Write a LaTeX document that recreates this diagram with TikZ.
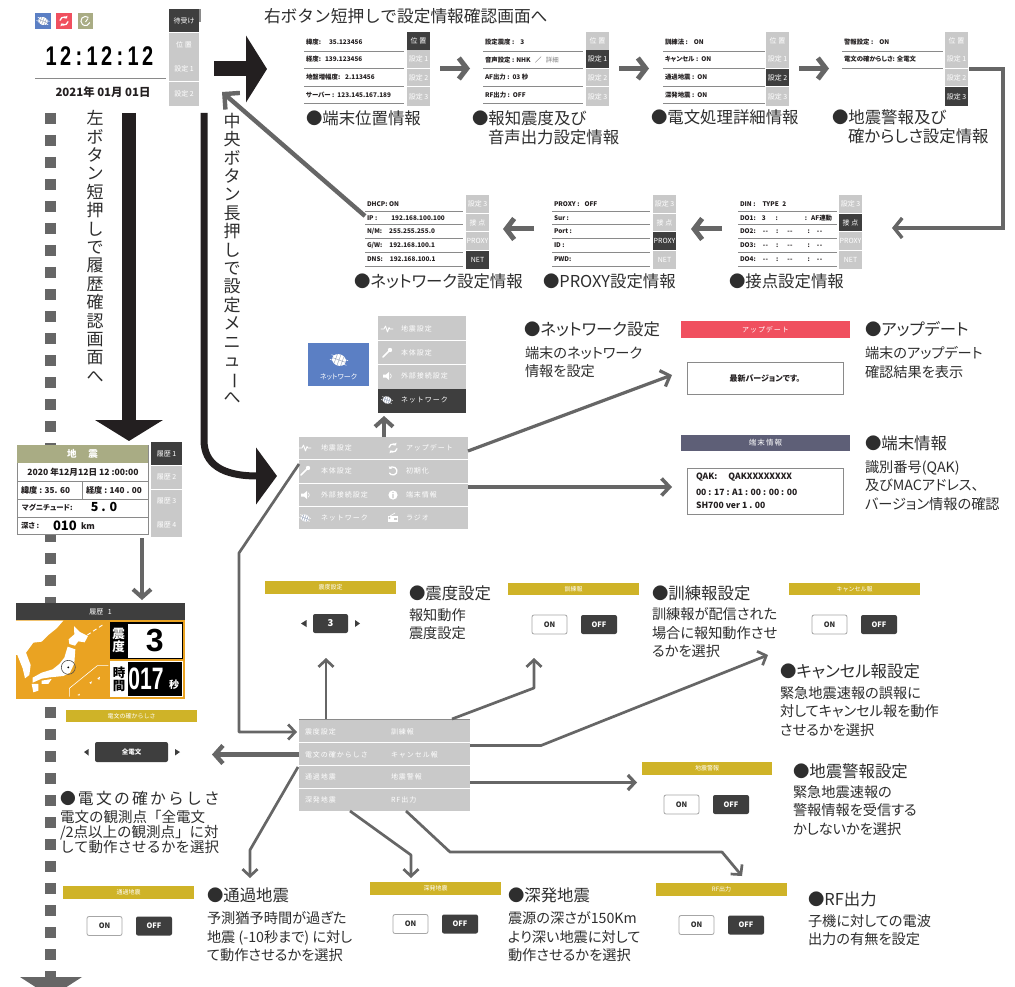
\documentclass[tikz,border=0pt]{standalone}
\usepackage{fontspec}
\usepackage{graphicx}
\usetikzlibrary{arrows.meta}
\setmainfont[RawFeature={+palt}]{Noto Sans CJK JP}
\newfontfamily\fixjp{Noto Sans CJK JP}
\newfontfamily\spcjp[LetterSpace=14]{Noto Sans CJK JP}
\newfontfamily\lsans{Liberation Sans}
\definecolor{ink}{HTML}{2E2E2E}
\definecolor{dk}{HTML}{231F20}
\definecolor{cg}{HTML}{666666}
\definecolor{panel}{HTML}{3E3E3E}
\definecolor{lgray}{HTML}{C9C9C9}
\definecolor{rowl}{HTML}{8A8A8A}
\definecolor{yel}{HTML}{CFB328}
\definecolor{red1}{HTML}{F0505F}
\definecolor{blue1}{HTML}{5B7FC4}
\definecolor{olive}{HTML}{A9AC84}
\definecolor{slate}{HTML}{5E5F77}
\definecolor{orng}{HTML}{EAA322}
\newcounter{tn}
\tikzset{
 box/.style={inner sep=0pt,outer sep=0pt,rectangle},
 txt/.style={inner sep=0pt,outer sep=0pt,anchor=west,text=ink},
 head/.style={txt,font=\fontsize{16.4}{16.4}\selectfont},
 bodyt/.style={txt,anchor=north west,align=left,yshift=-4.2pt,font=\fontsize{14.2}{18.8}\selectfont},
 rowt/.style={txt,text=dk,font=\bfseries\fontsize{6.4}{7}\selectfont},
 tabon/.style={box,fill=panel,text=white,font=\fontsize{7}{7}\selectfont},
 taboff/.style={box,fill=lgray,text=white,font=\fontsize{7}{7}\selectfont},
 rowline/.style={draw=rowl,line width=.8pt},
 hdr/.style={box,fill=yel,text=white,font=\fixjp\fontsize{6}{6}\selectfont},
 menut/.style={txt,text=white,font=\spcjp\fontsize{7}{8}\selectfont},
 btnon/.style={box,draw=gray!70,fill=white,line width=.8pt,rounded corners=2pt,text=ink,font=\bfseries\fontsize{7.4}{8}\selectfont},
 btnoff/.style={box,fill=panel,rounded corners=2pt,text=white,font=\bfseries\fontsize{7.4}{8}\selectfont},
 conn/.style={draw=cg,line width=5pt,-{Straight Barb[length=8pt,width=21pt]}},
 connm/.style={draw=cg,line width=4pt,-{Straight Barb[length=8pt,width=18pt]}},
 conns/.style={draw=cg,line width=2.7pt,line join=round,-{Straight Barb[length=7pt,width=15pt]}},
 iconw/.style={draw=white,line width=1pt,line cap=round,line join=round},
}
\newcommand\bx[7][]{%
 \pgfmathsetmacro\rcx{(#3+#5)/2}\pgfmathsetmacro\rcy{(#4+#6)/2}%
 \pgfmathsetmacro\rw{#5-#3}\pgfmathsetmacro\rh{#6-#4}%
 \node[box,#1,minimum width=\rw pt,minimum height=\rh pt] (#2) at (\rcx,\rcy) {#7};}
\newcommand\T[4][txt]{\stepcounter{tn}\node[#1] (t\arabic{tn}) at (#2,#3) {#4};}
\newcommand\tc[7]{\ifnum\act=#1 \bx[tabon]{#2}{#3}{#4}{#5}{#6}{#7}\else \bx[taboff]{#2}{#3}{#4}{#5}{#6}{#7}\fi}
% prefix x1 x2 ytop step a b c d
\newcommand\tabs[9]{%
 \pgfmathsetmacro\ya{#4}\pgfmathsetmacro\yb{#4+#5-.7}%
 \tc{1}{#1a}{#2}{\ya}{#3}{\yb}{#6}%
 \pgfmathsetmacro\ya{#4+#5}\pgfmathsetmacro\yb{#4+2*#5-.7}%
 \tc{2}{#1b}{#2}{\ya}{#3}{\yb}{#7}%
 \pgfmathsetmacro\ya{#4+2*#5}\pgfmathsetmacro\yb{#4+3*#5-.7}%
 \tc{3}{#1c}{#2}{\ya}{#3}{\yb}{#8}%
 \pgfmathsetmacro\ya{#4+3*#5}\pgfmathsetmacro\yb{#4+4*#5}%
 \tc{4}{#1d}{#2}{\ya}{#3}{\yb}{#9}}
\newcommand\rows[3]{\foreach \yy in {#3}{\draw[rowline] (#1,\yy) -- (#2,\yy);}}
\newcommand\onoff[3]{%
 \pgfmathsetmacro\ya{#3-9.5}\pgfmathsetmacro\yb{#3+9.5}%
 \pgfmathsetmacro\xa{#2}\pgfmathsetmacro\xb{#2+35}%
 \bx[btnon]{#1on}{\xa}{\ya}{\xb}{\yb}{ON}%
 \pgfmathsetmacro\xa{#2+49}\pgfmathsetmacro\xb{#2+85}%
 \bx[btnoff]{#1off}{\xa}{\ya}{\xb}{\yb}{OFF}}
% icons
\newcommand\igl[4]{\begin{scope}[shift={(#1,#2)},rotate=-20]
 \fill[#3] (0,0) ellipse[x radius=#4,y radius=.82*#4];
 \draw[#3,line width=.5pt] (-1.25*#4,.35*#4) -- (1.25*#4,.35*#4) (-1.25*#4,-.35*#4) -- (1.25*#4,-.35*#4);
 \draw[blue1!60!black!60!white,line width=.35pt] (-#4,0) -- (#4,0) (0,-.8*#4) -- (0,.8*#4) (-.5*#4,-.7*#4) -- (-.5*#4,.7*#4) (.5*#4,-.7*#4) -- (.5*#4,.7*#4);
 \end{scope}}
\newcommand\ipulse[2]{\draw[iconw,shift={(#1,#2)},line width=.8pt] (-6,0) -- (-3,0) -- (-1.5,-3) -- (.5,3) -- (2,-1.5) -- (3,0) -- (6,0);}
\newcommand\iwrench[2]{\draw[iconw,shift={(#1,#2)},line width=1.7pt] (-4,4) -- (2,-2); \fill[white,shift={(#1,#2)}] (3,-3) circle[radius=2.2];}
\newcommand\ispk[2]{\fill[white,shift={(#1,#2)}] (-4,-1.5) -- (-1,-1.5) -- (2,-4) -- (2,4) -- (-1,1.5) -- (-4,1.5) -- cycle; \draw[iconw,shift={(#1,#2)},line width=.7pt] (3.5,-2) .. controls (4.5,-1) and (4.5,1) .. (3.5,2);}
\newcommand\isync[2]{\draw[iconw,shift={(#1,#2)},line width=1.3pt,-{Triangle[length=2pt,width=4pt]}] (0,0) ++(-170:4) arc[start angle=-170,end angle=-40,radius=4];\draw[iconw,shift={(#1,#2)},line width=1.3pt,-{Triangle[length=2pt,width=4pt]}] (0,0) ++(10:4) arc[start angle=10,end angle=140,radius=4];}
\newcommand\iundo[2]{\draw[iconw,shift={(#1,#2)},line width=1.3pt,{Triangle[length=2pt,width=4pt]}-] (0,0) ++(-150:4) arc[start angle=-150,end angle=150,radius=4];}
\newcommand\iinfo[2]{\fill[white,shift={(#1,#2)}] (0,0) circle[radius=4.6];\fill[lgray,shift={(#1,#2)}] (-.7,-1) rectangle (.7,3) (-.7,-3) rectangle (.7,-1.8);}
\newcommand\iradio[2]{\fill[white,shift={(#1,#2)}] (-5,-2) rectangle (5,4);\draw[iconw,shift={(#1,#2)},line width=.6pt] (-3,-2) -- (2,-5);\fill[lgray,shift={(#1,#2)}] (-3.5,0) circle[radius=1.2] (1,0) rectangle (4,1.8);}
\newcommand\vtxt[1]{\fixjp\fontsize{17}{18.4}\selectfont #1}
\newcommand\vbar{\rotatebox[origin=c]{-90}{ー}}
\newcommand\dd{{-}\hspace{.4pt}{-}}
\begin{document}
\begin{tikzpicture}[x=1pt,y=-1pt]
\useasboundingbox (0,0) rectangle (1015,987);
\clip (0,0) rectangle (1015,987);
\fill[white] (0,0) rectangle (1015,987);

%========= free ends
\coordinate (dashS) at (50.5,113);
\coordinate (dashE) at (50.5,980);
\coordinate (bigRS) at (214,69);
\coordinate (bigRE) at (267,69);
\coordinate (bigDS) at (129,113);
\coordinate (bigDE) at (129,441);
\coordinate (curS) at (204,113);
\coordinate (curC) at (204,440);
\coordinate (curE) at (277,476);

%========= dashed history line
\draw[cg,line width=11pt,dash pattern=on 11pt off 11pt] (dashS) -- (dashE);
\fill[cg] (20,977) -- (82,977) -- (51,997) -- cycle;

%========= main screen
\bx[fill=blue1]{icoA}{35}{13}{51}{29}{}
\igl{43}{21}{white}{5}
\bx[fill=red1]{icoB}{56}{13}{72}{29}{}
\isync{64}{21}
\bx[fill=olive]{icoC}{78}{13}{93}{29}{}
\draw[white,line width=1pt] (85.5,21) ++(-50:4.6) arc[start angle=-50,delta angle=-290,radius=4.6];
\draw[white,line width=.9pt] (85.5,22) -- (88,18.5);
\T[txt,anchor=center,text=black,font=\lsans\bfseries\fontsize{27}{28}\selectfont]{99.5}{56}{\scalebox{.74}[1]{1\hspace{4.4pt}2\hspace{6pt}:\hspace{6pt}1\hspace{4.4pt}2\hspace{6pt}:\hspace{6pt}1\hspace{4.4pt}2}}
\draw[rowl,line width=1pt] (35,79) -- (166,79);
\T[txt,anchor=center,text=dk,font=\bfseries\fontsize{11.4}{12}\selectfont]{103}{92}{2021年 01月 01日}
\def\act{1}\tabs{main}{169}{199}{9}{24.2}{待受け}{位 置}{設定 1}{設定 2}
\fill[rowl] (199,9) rectangle (200.5,22);

%========= vertical captions
\stepcounter{tn}\node[txt,anchor=north,align=center,font=\vtxt{}] (vL) at (95,110.5) {左\\ボ\\タ\\ン\\短\\押\\し\\で\\履\\歴\\確\\認\\画\\面\\へ};
\stepcounter{tn}\node[txt,anchor=north,align=center,font=\vtxt{}] (vC) at (232,113) {中\\央\\ボ\\タ\\ン\\長\\押\\し\\で\\設\\定\\メ\\ニ\\ュ\\\vbar\\へ};

%========= big arrows
\draw[dk,line width=15pt,-{Triangle[length=21pt,width=66pt]}] (bigRS) -- (bigRE);
\draw[dk,line width=14pt,-{Triangle[length=21pt,width=67pt]}] (bigDS) -- (bigDE);
\draw[dk,line width=7pt,-{Triangle[length=21pt,width=56pt]}] (curS) -- (curC) .. controls (204,464) and (222,476) .. (curE);

%========= top heading
\T[txt,font=\fixjp\fontsize{16.7}{17}\selectfont]{264}{16}{右ボタン短押しで設定情報確認画面へ}

%========= row 1 screens
\rows{304}{404}{51,68,86,103}
\T[rowt]{306}{42}{緯度:\hspace{8pt}35.123456}
\T[rowt]{306}{59}{経度:\hspace{4pt}139.123456}
\T[rowt]{306}{77}{地盤増幅度:\hspace{5pt}2.113456}
\T[rowt]{306}{95}{サーバー :\hspace{3pt}123.145.167.189}
\def\act{1}\tabs{sa}{407}{430}{32}{18.4}{位 置}{設定 1}{設定 2}{設定 3}

\rows{483}{583}{51,68,86,103}
\T[rowt]{485}{42}{設定震度 :\hspace{6pt}3}
\T[rowt]{485}{60}{音声設定 : NHK \hspace{3pt}／\hspace{3pt} {\color{gray}\mdseries 詳細}}
\T[rowt]{485}{77}{AF出力 :\hspace{3pt}03 秒}
\T[rowt]{485}{95}{RF出力 :\hspace{3pt}OFF}
\def\act{2}\tabs{sb}{586}{609}{32}{18.4}{位 置}{設定 1}{設定 2}{設定 3}

\rows{663}{765}{51,68,86,103}
\T[rowt]{665}{42}{訓練法 :\hspace{6pt}ON}
\T[rowt]{665}{59}{キャンセル :\hspace{3pt}ON}
\T[rowt]{665}{77}{通過地震 :\hspace{3pt}ON}
\T[rowt]{665}{95}{深発地震 :\hspace{3pt}ON}
\def\act{3}\tabs{sc}{766}{789}{32}{18.4}{位 置}{設定 1}{設定 2}{設定 3}

\rows{842}{943}{51,68}
\T[rowt]{844}{42}{警報設定 :\hspace{6pt}ON}
\T[rowt]{844}{59}{電文の確からしさ: 全電文}
\def\act{4}\tabs{sd}{945}{968}{32}{18.4}{位 置}{設定 1}{設定 2}{設定 3}

%--- row 1 captions
\T[head]{306}{118}{●端末位置情報}
\T[head]{472}{118}{●報知震度及び}
\T[head]{488}{137}{音声出力設定情報}
\T[head]{651}{117}{●電文処理詳細情報}
\T[head]{832}{117}{●地震警報及び}
\T[head]{848}{136}{確からしさ設定情報}

%--- row 1 arrows
\coordinate (a1s) at (440,68.5); \coordinate (a1e) at (470,68.5);
\coordinate (a2s) at (619,68.5); \coordinate (a2e) at (649,68.5);
\coordinate (a3s) at (799,68.5); \coordinate (a3e) at (829,68.5);
\draw[conn] (a1s) -- (a1e);
\draw[conn] (a2s) -- (a2e);
\draw[conn] (a3s) -- (a3e);
\coordinate (wrapE) at (892,228);
\coordinate (wrapC) at (1003,228);
\coordinate (wrapU) at (1003,69);
\coordinate (wrapS) at (969,69);
\draw[draw=cg,line width=3.4pt,line join=miter,-{Straight Barb[length=8pt,width=20pt]}] (wrapS) -- (wrapU) -- (wrapC) -- (wrapE);

%========= row 2 screens
\rows{365}{463}{211,224,238,252,266}
\T[rowt]{367}{204}{DHCP: ON}
\T[rowt]{367}{218}{IP :\hspace{14pt}192.168.100.100}
\T[rowt]{367}{231}{N/M:\hspace{7pt}255.255.255.0}
\T[rowt]{367}{245}{G/W:\hspace{7pt}192.168.100.1}
\T[rowt]{367}{259}{DNS:\hspace{7pt}192.168.100.1}
\def\act{4}\tabs{sn}{466}{489}{195}{18.6}{設定 3}{接 点}{PROXY}{NET}

\rows{552}{650}{211,224,238,252,266}
\T[rowt]{554}{204}{PROXY :\hspace{5pt}OFF}
\T[rowt]{554}{218}{Sur :}
\T[rowt]{554}{231}{Port :}
\T[rowt]{554}{245}{ID :}
\T[rowt]{554}{259}{PWD:}
\def\act{3}\tabs{sp}{653}{676}{195}{18.6}{設定 3}{接 点}{PROXY}{NET}

\rows{738}{837}{211,224,238,252,266}
\T[rowt]{740}{204}{DIN :\hspace{7pt}TYPE\hspace{2pt} 2}
\T[rowt]{740}{218}{DO1:\hspace{6pt}3\hspace{10pt}:\hspace{27pt}:\hspace{4pt}AF連動}
\T[rowt]{740}{231}{DO2:\hspace{7pt}\dd\hspace{8pt}:\hspace{9pt}\dd\hspace{15pt}:\hspace{7pt}\dd}
\T[rowt]{740}{245}{DO3:\hspace{7pt}\dd\hspace{8pt}:\hspace{9pt}\dd\hspace{15pt}:\hspace{7pt}\dd}
\T[rowt]{740}{259}{DO4:\hspace{7pt}\dd\hspace{8pt}:\hspace{9pt}\dd\hspace{15pt}:\hspace{7pt}\dd}
\def\act{2}\tabs{sq}{839}{862}{195}{18.6}{設定 3}{接 点}{PROXY}{NET}

\T[head]{354}{281}{●ネットワーク設定情報}
\T[head]{543}{281}{●PROXY設定情報}
\T[head]{729}{281}{●接点設定情報}

\coordinate (b1s) at (722,229); \coordinate (b1e) at (691,229);
\coordinate (b2s) at (534,229); \coordinate (b2e) at (503,229);
\draw[conn] (b1s) -- (b1e);
\draw[conn] (b2s) -- (b2e);
\coordinate (backS) at (365,216); \coordinate (backE) at (222,92);
\draw[draw=cg,line width=4.4pt,-{Straight Barb[length=11pt,width=22pt]}] (backS) -- (backE);

%========= network menu
\bx[fill=blue1]{netblue}{308}{343}{369}{386}{}
\igl{339}{360}{white}{7}
\T[txt,anchor=center,text=white,font=\fontsize{7}{8}\selectfont]{338.5}{377}{ネットワーク}
\bx[fill=lgray]{menuA}{378}{316}{466}{389}{}
\bx[fill=panel]{menuAd}{378}{389}{466}{413}{}
\draw[white,line width=.6pt] (378,340) -- (466,340) (378,364) -- (466,364);
\ipulse{387}{329} \T[menut]{401}{329}{地震設定}
\iwrench{387}{353} \T[menut]{401}{353}{本体設定}
\ispk{387}{376} \T[menut]{401}{376}{外部接続設定}
\igl{387}{400}{white}{4.5} \T[menut]{401}{400}{ネットワーク}

%========= settings menu
\bx[fill=lgray]{menuB}{299}{437}{468}{529}{}
\draw[white,line width=.6pt] (299,459.5) -- (468,459.5) (299,483) -- (468,483) (299,506.5) -- (468,506.5);
\ipulse{305}{448} \T[menut]{321}{448}{地震設定}
\iwrench{305}{471} \T[menut]{321}{471}{本体設定}
\ispk{305}{495} \T[menut]{321}{495}{外部接続設定}
\igl{305}{518}{white}{4.5} \T[menut]{321}{518}{ネットワーク}
\isync{393}{448} \T[menut]{406}{448}{アップデート}
\iundo{393}{471} \T[menut]{406}{471}{初期化}
\iinfo{393}{495} \T[menut]{406}{495}{端末情報}
\iradio{393}{518} \T[menut]{406}{518}{ラジオ}

\coordinate (upE) at (384,416);
\draw[connm] (menuB.north -| upE) -- (upE);
\coordinate (updE) at (672,375); \coordinate (updS) at (468,451);
\draw[draw=cg,line width=3.2pt,-{Straight Barb[length=8pt,width=17pt]}] (updS) -- (updE);
\coordinate (infoE) at (672,487); \coordinate (infoS) at (468,487);
\draw[draw=cg,line width=3.6pt,-{Straight Barb[length=8pt,width=17pt]}] (infoS) -- (infoE);

%========= update / terminal info panels
\bx[fill=red1,text=white,font=\spcjp\fontsize{7}{8}\selectfont]{updH}{681}{321}{850}{338}{アップデート}
\bx[draw=rowl,line width=.9pt,text=dk,font=\bfseries\fontsize{8}{9}\selectfont]{updB}{687}{362}{843}{394}{最新バージョンです。}
\bx[fill=slate,text=white,font=\spcjp\fontsize{7.5}{8}\selectfont]{infH}{681}{435}{850}{451}{端末情報}
\bx[draw=rowl,line width=.9pt]{infB}{687}{468}{843}{514}{}
\T[txt,text=dk,font=\bfseries\fontsize{8.6}{9}\selectfont]{696}{477.5}{QAK:\hspace{11pt}QAKXXXXXXXX}
\T[txt,text=dk,font=\bfseries\fontsize{8.6}{9}\selectfont]{696}{492}{00 : 17 : A1 : 00 : 00 : 00}
\T[txt,text=dk,font=\bfseries\fontsize{8.6}{9}\selectfont]{696}{505.5}{SH700 ver 1 . 00}

\T[head]{524}{329}{●ネットワーク設定}
\T[bodyt]{525}{342}{端末のネットワーク\\情報を設定}
\T[head]{865}{329}{●アップデート}
\T[bodyt]{865}{342}{端末のアップデート\\確認結果を表示}
\T[head]{865}{443}{●端末情報}
\T[bodyt]{865}{456}{識別番号(QAK)\\及びMACアドレス、\\バージョン情報の確認}

%========= earthquake screen
\bx[draw=rowl,line width=1pt,fill=white]{eqBox}{17}{445}{148}{534}{}
\bx[fill=olive,text=white,font=\bfseries\fontsize{9.5}{10}\selectfont]{eqH}{17}{445}{148}{463}{地\hspace{12pt}震}
\draw[rowl,line width=1pt] (17,481) -- (148,481) (17,499) -- (148,499) (17,517) -- (148,517) (82,481) -- (82,499);
\T[txt,anchor=center,text=dk,font=\bfseries\fontsize{8.6}{9}\selectfont]{83}{472.5}{2020 年12月12日 12 :00:00}
\T[txt,text=dk,font=\bfseries\fontsize{8.2}{9}\selectfont]{21}{490.5}{緯度 : 35. 60}
\T[txt,text=dk,font=\bfseries\fontsize{8.2}{9}\selectfont]{86}{490.5}{経度 : 140 . 00}
\T[txt,text=dk,font=\bfseries\fontsize{7.4}{8}\selectfont]{22}{507.5}{マグニチュード:}
\T[txt,anchor=center,text=black,font=\bfseries\fontsize{12.5}{13}\selectfont]{104}{507}{5 . 0}
\T[txt,text=dk,font=\bfseries\fontsize{7.4}{8}\selectfont]{21}{526}{深さ :}
\T[txt,text=black,font=\bfseries\fontsize{13}{14}\selectfont]{53}{526}{010}
\T[txt,text=dk,font=\bfseries\fontsize{8.6}{9}\selectfont]{81}{526}{km}
\def\act{1}\tabs{hi}{151}{182}{442}{23.8}{履歴 1}{履歴 2}{履歴 3}{履歴 4}
\coordinate (eqdS) at (142,538);
\coordinate (eqdE) at (142,600);
\draw[connm] (eqdS) -- (eqdE);

%========= map screen
\bx[fill=panel,text=white,font=\fontsize{7}{8}\selectfont]{mapH}{16}{603}{185}{620}{履歴\hspace{3pt} 1}
\bx[fill=orng]{mapB}{16}{620}{185}{699}{}
\begin{scope}[shift={(10,600)},x=.3333pt,y=-.3333pt]
\fill[white] (18,62) -- (160,62) -- (140,85) -- (115,105) -- (95,125) -- (70,128) -- (48,158) -- (62,195) -- (58,225) -- (45,235) -- (38,205) -- (22,165) -- (18,165) -- cycle;
\fill[white] (192,78) -- (210,96) -- (234,108) -- (224,127) -- (205,124) -- (195,137) -- (178,132) -- (176,118) -- (193,103) -- cycle;
\fill[white] (173,140) -- (196,148) -- (193,190) -- (180,218) -- (160,228) -- (120,232) -- (95,236) -- (68,248) -- (68,233) -- (95,218) -- (128,208) -- (148,192) -- (163,173) -- cycle;
\fill[white] (95,242) -- (125,237) -- (115,252) -- (95,252) -- cycle;
\fill[white] (65,252) -- (85,252) -- (85,272) -- (70,277) -- cycle;
\fill[white] (262,235) -- (270,230) -- (268,240) -- cycle (238,248) -- (246,244) -- (243,252) -- cycle (202,285) -- (210,281) -- (208,287) -- cycle;
\draw[white,line width=.6pt] (178,290) -- (178,265) -- (262,197) -- (295,197);
\draw[white,line width=.9pt,dash pattern=on 4pt off 3pt] (232,105) -- (282,72);
\draw[black!70,line width=.6pt] (175,202) circle[radius=21];
\fill[black] (175,202) circle[radius=3];
\end{scope}
\bx[fill=black]{shA}{110}{622}{183}{659}{}
\bx[fill=white,text=black,font=\lsans\bfseries\fontsize{32}{33}\selectfont]{shV}{127.5}{623.5}{182}{657.5}{3}
\T[txt,anchor=center,text=white,align=center,font=\bfseries\fontsize{12.5}{13.5}\selectfont]{118.5}{640.5}{震\\度}
\bx[fill=white]{tmA}{110}{661}{183}{697}{}
\bx[fill=black]{tmV}{128}{662}{182}{696}{}
\T[txt,anchor=center,text=black,align=center,font=\bfseries\fontsize{12.5}{13.5}\selectfont]{119}{679}{時\\間}
\T[txt,anchor=center,text=white,font=\lsans\bfseries\fontsize{31}{32}\selectfont]{146}{679}{\scalebox{.68}[1]{017}}
\T[txt,anchor=center,text=white,font=\bfseries\fontsize{10}{11}\selectfont]{174}{685}{秒}

%========= settings list menu
\bx[fill=lgray]{menuC}{299}{719}{470}{811}{}
\draw[rowl,line width=1pt] (299,719) -- (470,719);
\draw[white,line width=.6pt] (299,742.5) -- (470,742.5) (299,765) -- (470,765) (299,788.5) -- (470,788.5);
\T[menut]{305}{732}{震度設定}
\T[menut]{305}{755}{電文の確からしさ}
\T[menut]{305}{777}{通過地震}
\T[menut]{305}{800}{深発地震}
\T[menut]{391}{732}{訓練報}
\T[menut]{391}{755}{キャンセル報}
\T[menut]{391}{777}{地震警報}
\T[menut]{391}{800}{RF出力}

%--- link from menu B to menu C
\coordinate (lnkTop) at (299,464); \coordinate (lnkA) at (239,553); \coordinate (lnkB) at (239,732); \coordinate (lnkE) at (297,732);
\draw[conns] (lnkTop) -- (lnkA) -- (lnkB) -- (lnkE);

%========= setting panels
\bx[hdr]{shH}{265}{581}{396}{594}{震度設定}
\bx[fill=panel,rounded corners=2pt,text=white,font=\bfseries\fontsize{9.5}{10}\selectfont]{shS}{313}{614}{348}{633}{3}
\fill[panel] (306.5,620) -- (306.5,627) -- (301,623.5) -- cycle;
\fill[panel] (355,620) -- (355,627) -- (360,623.5) -- cycle;
\T[head]{409}{593}{●震度設定}
\T[bodyt]{409}{604}{報知動作\\震度設定}

\bx[hdr]{trH}{508}{583}{639}{595}{訓練報}
\onoff{tr}{532}{624.5}
\T[head]{652}{593}{●訓練報設定}
\T[bodyt]{652}{603}{訓練報が配信された\\場合に報知動作させ\\るかを選択}

\bx[hdr]{caH}{789}{583}{920}{595}{キャンセル報}
\onoff{ca}{812}{624.5}
\T[head]{780}{671}{●キャンセル報設定}
\T[bodyt]{780}{682}{緊急地震速報の誤報に\\対してキャンセル報を動作\\させるかを選択}

\bx[hdr]{elH}{66}{710}{197}{722}{電文の確からしさ}
\bx[fill=panel,rounded corners=2pt,text=white,font=\bfseries\fontsize{6.5}{7}\selectfont]{elS}{95}{742}{168}{762}{全電文}
\fill[panel] (88.5,749) -- (88.5,755.5) -- (84,752) -- cycle;
\fill[panel] (175,749) -- (175,755.5) -- (180,752) -- cycle;
\T[txt,font=\spcjp\fontsize{15.8}{17}\selectfont]{60}{798}{●電文の確からしさ}
\T[txt,anchor=north west,align=left,font=\fixjp\fontsize{14.5}{15.2}\selectfont]{60}{810}{電文の観測点「全電文\\/2点以上の観測点」に対\\して動作させるかを選択}

\bx[hdr]{wnH}{642}{762}{772}{775}{地震警報}
\onoff{wn}{664}{804.5}
\T[head]{793}{771}{●地震警報設定}
\T[bodyt]{793}{781}{緊急地震速報の\\警報情報を受信する\\かしないかを選択}

\bx[hdr]{ppH}{63}{886}{194}{899}{通過地震}
\onoff{pp}{87}{926}
\T[head]{207}{895}{●通過地震}
\T[bodyt]{207}{907}{予測猶予時間が過ぎた\\地震 (-10秒まで) に対し\\て動作させるかを選択}

\bx[hdr]{dpH}{370}{882}{501}{895}{深発地震}
\onoff{dp}{393}{924}
\T[head]{508}{895}{●深発地震}
\T[bodyt]{508}{907}{震源の深さが150Km\\より深い地震に対して\\動作させるかを選択}

\bx[hdr]{rfH}{656}{883}{787}{896}{RF出力}
\onoff{rf}{679}{925}
\T[head]{808}{899}{●RF出力}
\T[bodyt]{808}{910}{子機に対しての電波\\出力の有無を設定}

%========= connectors from settings list
\coordinate (c1s) at (326,719); \coordinate (c1e) at (326,658);
\draw[conns] (c1s) -- (c1e);
\coordinate (c2s) at (452,719); \coordinate (c2c) at (534,688); \coordinate (c2e) at (534,658);
\draw[conns] (c2s) -- (c2c) -- (c2e);
\coordinate (c3s) at (470,745.5); \coordinate (c3c) at (541,745.5); \coordinate (c3e) at (768,655);
\draw[conns] (c3s) -- (c3c) -- (c3e);
\coordinate (c4s) at (470,782.5); \coordinate (c4e) at (637,782.5);
\draw[conns,line width=3.2pt] (c4s) -- (c4e);
\coordinate (c5s) at (299,754.5); \coordinate (c5e) at (212,754.5);
\draw[connm,line width=4.4pt] (c5s) -- (c5e);
\coordinate (c6s) at (298,767); \coordinate (c6c) at (250,850); \coordinate (c6e) at (250,878);
\draw[conns] (c6s) -- (c6c) -- (c6e);
\coordinate (c7s) at (350,811); \coordinate (c7c) at (411,855); \coordinate (c7e) at (411,878);
\draw[conns] (c7s) -- (c7c) -- (c7e);
\coordinate (c8s) at (406,811); \coordinate (c8c) at (450,852); \coordinate (c8d) at (722,852); \coordinate (c8e) at (742,876);
\draw[conns] (c8s) -- (c8c) -- (c8d) -- (c8e);
\end{tikzpicture}
\end{document}
